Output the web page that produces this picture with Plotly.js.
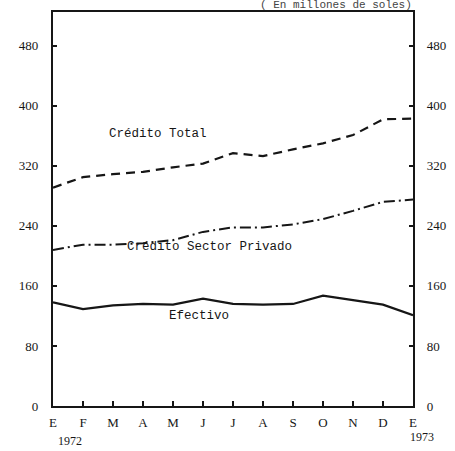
<!DOCTYPE html>
<html>
<head>
<meta charset="utf-8">
<script src="https://cdn.plot.ly/plotly-3.0.1.min.js"></script>
<style>html,body{margin:0;padding:0;background:#fff;}#chart{width:455px;height:451px;}</style>
</head>
<body>
<div id="chart"></div>
<script>
const monthIndex = [0,1,2,3,4,5,6,7,8,9,10,11,12];
const monthLabels = ["E","F","M","A","M","J","J","A","S","O","N","D","E"];
const creditoTotal = [291,305,309,312,318,323,337,333,342,350,361,382,383];
const creditoPrivado = [208,215,215,217,221,232,238,238,242,249,260,272,275];
const efectivo = [138,129,134,136,135,143,136,135,136,147,141,135,121];
const yTicks = [0,80,160,240,320,400,480];

const ink = "#161616";
const serif = "Liberation Serif, DejaVu Serif, serif";
const mono = "Liberation Mono, DejaVu Sans Mono, monospace";
const labelFont = {family: mono, size: 12.5, color: ink};

const traces = [
  {x: monthIndex, y: creditoTotal, mode: "lines", line: {color: ink, width: 2.2, dash: "9px,6px"}, hoverinfo: "none"},
  {x: monthIndex, y: creditoPrivado, mode: "lines", line: {color: ink, width: 2, dash: "11px,4px,2px,4px"}, hoverinfo: "none"},
  {x: monthIndex, y: efectivo, mode: "lines", line: {color: ink, width: 2.2}, hoverinfo: "none"},
  {x: monthIndex, y: efectivo, yaxis: "y2", mode: "lines", line: {width: 0}, opacity: 0, hoverinfo: "none"}
];

const layout = {
  width: 455, height: 451,
  margin: {l: 53, r: 42, t: 12, b: 45},
  paper_bgcolor: "#fff", plot_bgcolor: "#fff",
  showlegend: false,
  xaxis: {
    range: [0, 12], tickvals: monthIndex, ticktext: monthLabels,
    ticks: "inside", ticklen: 5, tickwidth: 1.5, tickcolor: ink,
    showline: true, linecolor: ink, linewidth: 2.2, mirror: true,
    showgrid: false, zeroline: false,
    tickfont: {family: serif, size: 13, color: ink}, ticklabelstandoff: 3
  },
  yaxis: {
    range: [0, 525], tickvals: yTicks,
    ticks: "inside", ticklen: 4, tickwidth: 1.5, tickcolor: ink,
    showline: true, linecolor: ink, linewidth: 2.2,
    showgrid: false, zeroline: false,
    tickfont: {family: serif, size: 13, color: ink}, ticklabelstandoff: 10
  },
  yaxis2: {
    overlaying: "y", side: "right", matches: "y", range: [0, 525], tickvals: yTicks,
    ticks: "inside", ticklen: 4, tickwidth: 1.5, tickcolor: ink,
    showline: true, linecolor: ink, linewidth: 2.2,
    showgrid: false, zeroline: false,
    tickfont: {family: serif, size: 13, color: ink}, ticklabelstandoff: 9
  },
  annotations: [
    {text: "Crédito Total", x: 3.5, y: 362, xref: "x", yref: "y", showarrow: false, font: labelFont},
    {text: "Crédito Sector Privado", x: 5.2, y: 212, xref: "x", yref: "y", showarrow: false, font: labelFont},
    {text: "Efectivo", x: 4.85, y: 120, xref: "x", yref: "y", showarrow: false, font: labelFont},
    {text: "1972", x: 0.047, y: -0.088, xref: "paper", yref: "paper", xanchor: "center", yanchor: "middle", showarrow: false, font: {family: serif, size: 12, color: ink}},
    {text: "1973", x: 1.025, y: -0.078, xref: "paper", yref: "paper", xanchor: "center", yanchor: "middle", showarrow: false, font: {family: serif, size: 12, color: ink}},
    {text: "( En millones de soles)", x: 0.786, y: 1.0, xref: "paper", yref: "paper", xanchor: "center", yanchor: "bottom", yshift: -1, showarrow: false, font: {family: mono, size: 11, color: "#444"}}
  ]
};

Plotly.newPlot("chart", traces, layout, {staticPlot: true, displayModeBar: false});
</script>
</body>
</html>
